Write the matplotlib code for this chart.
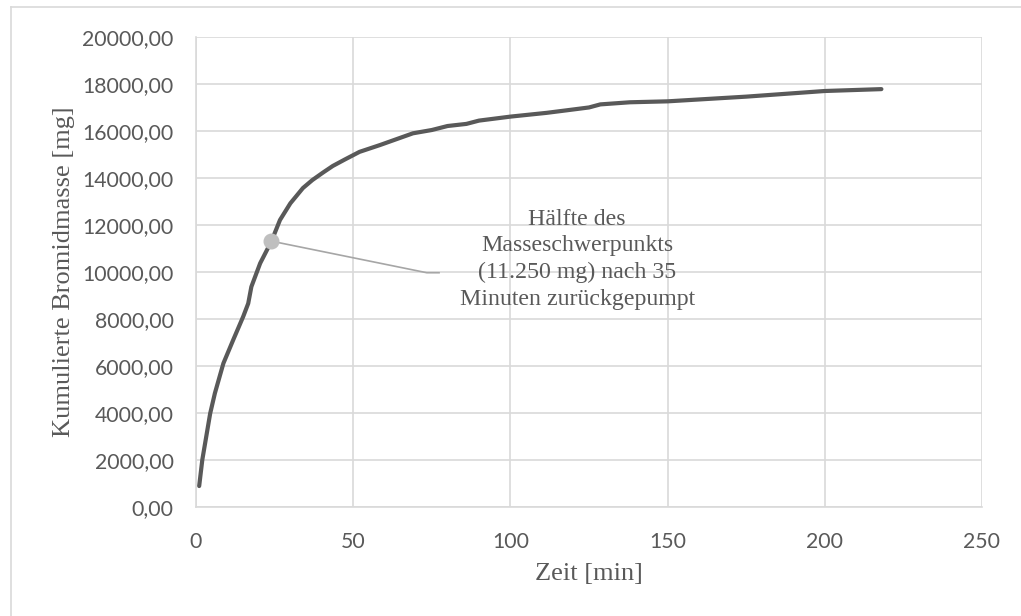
import matplotlib.pyplot as plt
from matplotlib.lines import Line2D
from matplotlib.ticker import FuncFormatter

# Messwerte: kumulierte Bromidmasse über die Zeit
zeit_min = [1, 2, 4.5, 6, 8.7, 11.8, 15, 16.6, 17.6, 20.4, 24, 26.7, 30, 34,
            37, 40.5, 43.5, 47.4, 52, 58.5, 69, 75, 80, 86, 90, 100, 111.5,
            118, 125, 128.6, 138, 150, 160, 175, 200, 218]
masse_mg = [880, 2000, 3970, 4830, 6100, 7090, 8090, 8650, 9360, 10360, 11300,
            12200, 12910, 13560, 13900, 14230, 14500, 14780, 15100, 15390,
            15890, 16030, 16200, 16290, 16430, 16600, 16760, 16870, 16990,
            17120, 17210, 17250, 17330, 17450, 17690, 17770]

# Hervorgehobener Punkt (Hälfte des Masseschwerpunkts)
zeit_halb = 24
masse_halb = 11300

x_ticks = [0, 50, 100, 150, 200, 250]
y_ticks = list(range(0, 20001, 2000))

grau_text = "#595959"
grau_gitter = "#D9D9D9"

fig = plt.figure(figsize=(10.21, 6.16), dpi=100)
ax = fig.add_axes([0.1920, 0.1774, 0.7698, 0.7630])

ax.plot(zeit_min, masse_mg, color="#595959", linewidth=3.0,
        solid_capstyle="round", solid_joinstyle="round", zorder=3)
ax.plot([zeit_halb], [masse_halb], marker="o", markersize=10.5,
        color="#BFBFBF", zorder=4)

# Führungslinie zur Beschriftung
ax.plot([zeit_halb, 73.4, 77.3], [masse_halb, 9957, 9957],
        color="#A6A6A6", linewidth=1.2, zorder=2)
ax.text(121.2, 10530,
        "Hälfte des\nMasseschwerpunkts\n(11.250 mg) nach 35\nMinuten zurückgepumpt",
        ha="center", va="center", fontsize=17.2, family="Liberation Serif",
        color=grau_text, linespacing=1.35)

ax.set_xlim(0, 250)
ax.set_ylim(0, 20000)
ax.set_xticks(x_ticks)
ax.set_yticks(y_ticks)
ax.yaxis.set_major_formatter(FuncFormatter(lambda v, p: f"{v:.2f}".replace(".", ",")))

ax.grid(True, color=grau_gitter, linewidth=1.2)
ax.set_axisbelow(True)
for s in ["top", "right"]:
    ax.spines[s].set_visible(False)
for s in ["left", "bottom"]:
    ax.spines[s].set_color(grau_gitter)
    ax.spines[s].set_linewidth(1.2)

ax.tick_params(length=0, labelsize=15.3, labelcolor=grau_text)
for lab in ax.get_xticklabels() + ax.get_yticklabels():
    lab.set_family("Lato")
ax.tick_params(axis="y", pad=16)
ax.tick_params(axis="x", pad=18)

ax.set_xlabel("Zeit [min]", fontsize=19, family="Liberation Serif",
              color=grau_text, labelpad=8)
ax.set_ylabel("Kumulierte Bromidmasse [mg]", fontsize=19,
              family="Liberation Serif", color=grau_text, labelpad=5)

# Rahmen des Diagrammbereichs (oben und links)
fig.add_artist(Line2D([11 / 1021, 1], [1 - 7 / 616, 1 - 7 / 616],
                      color="#D9D9D9", linewidth=1.2, transform=fig.transFigure))
fig.add_artist(Line2D([11 / 1021, 11 / 1021], [0, 1 - 7 / 616],
                      color="#D9D9D9", linewidth=1.2, transform=fig.transFigure))

fig.savefig("out.png", dpi=100)
